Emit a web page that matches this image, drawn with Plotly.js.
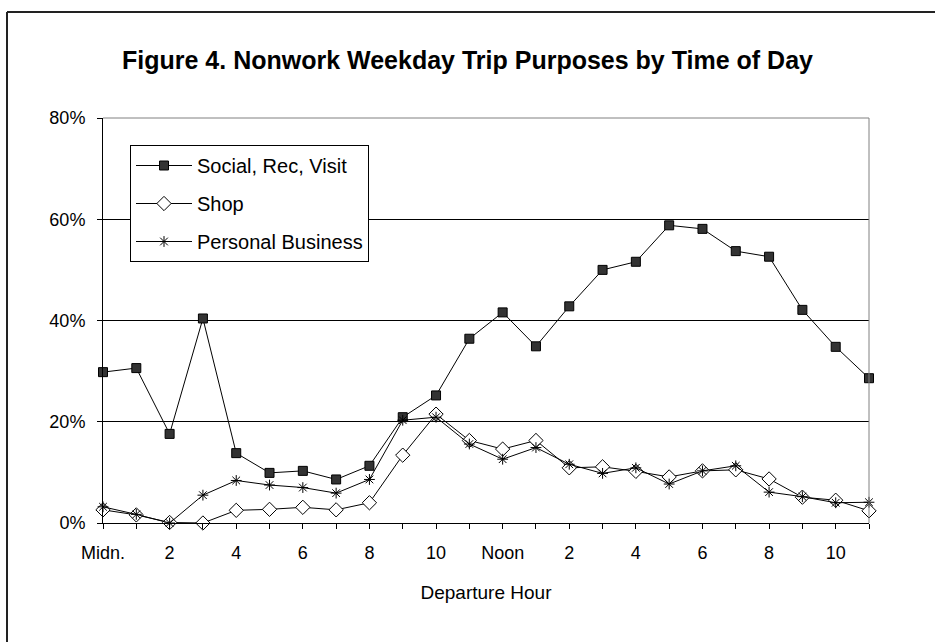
<!DOCTYPE html>
<html>
<head>
<meta charset="utf-8">
<script src="https://cdn.plot.ly/plotly-3.0.1.min.js"></script>
<style>html,body{margin:0;padding:0;background:#fff;}#chart{width:935px;height:642px;}</style>
</head>
<body>
<div id="chart"></div>
<script>
const hours = [0,1,2,3,4,5,6,7,8,9,10,11,12,13,14,15,16,17,18,19,20,21,22,23];
const tickLabels = ['Midn.','','2','','4','','6','','8','','10','','Noon','','2','','4','','6','','8','','10',''];
const yTickVals = [0,20,40,60,80];
const yTickText = ['0%','20%','40%','60%','80%'];
const social = [29.8,30.6,17.6,40.4,13.8,9.9,10.3,8.6,11.3,20.9,25.2,36.4,41.6,34.9,42.8,50.0,51.6,58.8,58.1,53.7,52.6,42.1,34.8,28.6];
const shop = [2.6,1.6,0.1,0.0,2.5,2.7,3.1,2.6,4.0,13.4,21.5,16.3,14.6,16.3,10.9,11.1,10.2,9.1,10.3,10.5,8.7,5.1,4.5,2.4];
const personal = [3.2,1.7,0.0,5.5,8.4,7.5,7.0,5.9,8.6,20.3,20.9,15.6,12.6,14.9,11.6,9.8,10.9,7.7,10.3,11.3,6.1,5.2,4.0,4.1];

const F = 'Arial, "Liberation Sans", sans-serif';
const traces = [
  {x: hours, y: social, name: 'Social, Rec, Visit', mode: 'lines+markers', legendgroup: 'a',
   line: {color: '#000', width: 1}, cliponaxis: false,
   marker: {symbol: 'square', size: 9, color: '#333', line: {color: '#000', width: 1}}},
  {x: hours, y: shop, name: 'Shop', mode: 'lines+markers', legendgroup: 'b',
   line: {color: '#000', width: 1}, cliponaxis: false,
   marker: {symbol: 'diamond', size: 11, color: '#fff', line: {color: '#000', width: 1}}},
  {x: hours, y: personal, name: 'Personal Business', mode: 'lines+markers', legendgroup: 'c',
   line: {color: '#000', width: 1}, cliponaxis: false,
   marker: {symbol: 'asterisk-open', size: 9, color: '#000', line: {color: '#000', width: 1}}}
];

const L = 103, R = 869, T = 118, B = 523;
const px = v => (v - L) / (R - L);
const py = v => (B - v) / (B - T);

const layout = {
  width: 935, height: 642,
  margin: {l: L, r: 935 - R, t: T, b: 642 - B},
  paper_bgcolor: '#fff', plot_bgcolor: '#fff',
  font: {family: F, color: '#000', size: 18},
  title: {text: '<b>Figure 4. Nonwork Weekday Trip Purposes by Time of Day</b>',
          font: {family: F, size: 25, color: '#000'}, x: 0.5, xanchor: 'center', y: 1 - 60/642, yanchor: 'middle'},
  showlegend: true,
  legend: {x: px(130), y: py(145), xanchor: 'left', yanchor: 'top', itemwidth: 56,
           bgcolor: '#fff', bordercolor: '#000', borderwidth: 1,
           font: {family: F, size: 20, color: '#000'}, traceorder: 'grouped', tracegroupgap: 9},
  xaxis: {range: [0, 23], tickmode: 'array', tickvals: hours, ticktext: tickLabels,
          ticks: 'outside', ticklen: 5, tickcolor: '#000', showgrid: false, zeroline: false,
          ticklabelstandoff: 8,
          showline: true, linecolor: '#000', linewidth: 1, tickfont: {family: F, size: 18},
          title: {text: 'Departure Hour', font: {family: F, size: 19}, standoff: 24}},
  yaxis: {range: [0, 80], tickmode: 'array', tickvals: yTickVals, ticktext: yTickText,
          ticks: 'outside', ticklen: 5, tickcolor: '#000', showgrid: true, gridcolor: '#000', gridwidth: 1,
          ticklabelstandoff: 8,
          zeroline: false, showline: true, linecolor: '#000', linewidth: 1, tickfont: {family: F, size: 18}},
  shapes: [
    {type: 'line', xref: 'paper', yref: 'paper', x0: 0, x1: 1, y0: 1, y1: 1, line: {color: '#808080', width: 1}},
    {type: 'line', xref: 'paper', yref: 'paper', x0: 1, x1: 1, y0: 0, y1: 1, line: {color: '#808080', width: 1}},
    {type: 'line', xref: 'paper', yref: 'paper', x0: px(7), x1: px(940), y0: py(12), y1: py(12), line: {color: '#222', width: 2}},
    {type: 'line', xref: 'paper', yref: 'paper', x0: px(7), x1: px(7), y0: py(12), y1: py(650), line: {color: '#222', width: 2}}
  ]
};

Plotly.newPlot('chart', traces, layout, {displayModeBar: false, staticPlot: true});
</script>
</body>
</html>
